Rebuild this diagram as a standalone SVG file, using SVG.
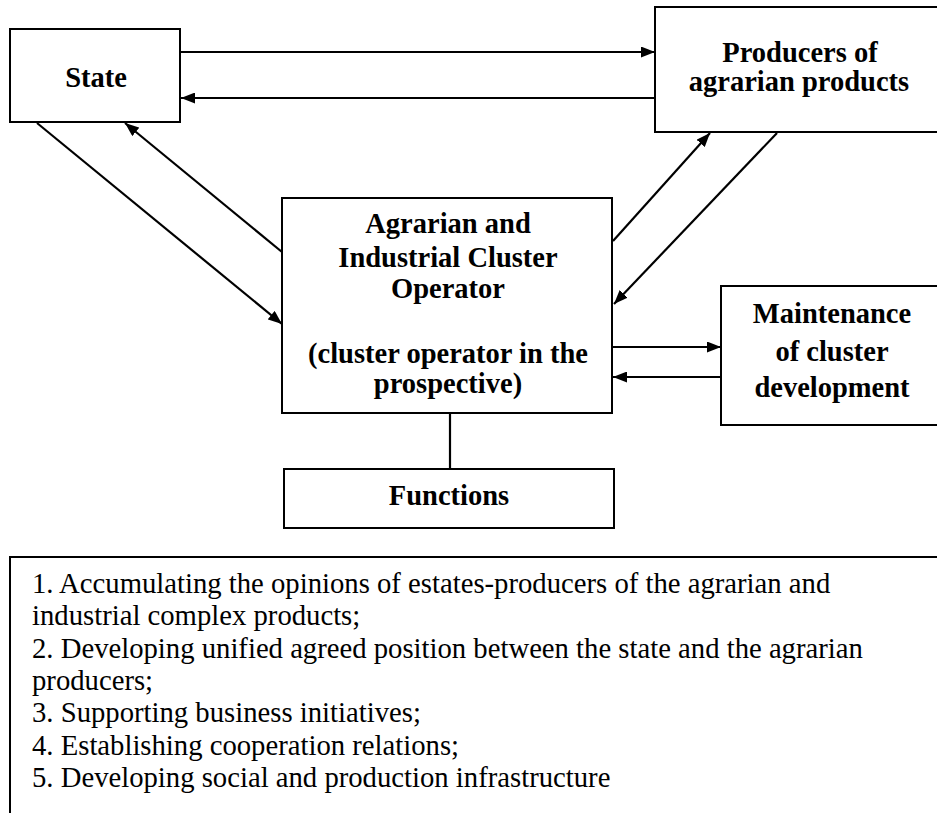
<svg xmlns="http://www.w3.org/2000/svg" width="937" height="813" viewBox="0 0 937 813">
<style>
.box{fill:#fff;stroke:#000;stroke-width:2}
.t{font-family:'Liberation Serif','Times New Roman',Tinos,'DejaVu Serif',serif;font-weight:bold;font-size:28.5px;fill:#000;text-anchor:middle}
.l{font-family:'Liberation Serif','Times New Roman',Tinos,'DejaVu Serif',serif;font-size:28.7px;fill:#000}
.c{stroke:#000;stroke-width:2.2;fill:none}
</style>
<defs>
<marker id="ah" viewBox="0 0 14 11" refX="14" refY="5.5" markerWidth="14" markerHeight="11" markerUnits="userSpaceOnUse" orient="auto">
<path d="M0,0 L14,5.5 L0,11 z" fill="#000"/>
</marker>
</defs>
<rect width="937" height="813" fill="#fff"/>
<g id="state"><rect class="box" x="10" y="29" width="170" height="93"/><text class="t" x="96" y="87">State</text></g>
<g id="producers"><rect class="box" x="655" y="7" width="290" height="125"/><text class="t" x="800" y="62">Producers of</text><text class="t" x="799" y="91">agrarian products</text></g>
<g id="operator"><rect class="box" x="282" y="198" width="330" height="215"/>
<text class="t" x="448" y="233">Agrarian and</text>
<text class="t" x="448" y="267">Industrial Cluster</text>
<text class="t" x="448" y="298">Operator</text>
<text class="t" x="448" y="363">(cluster operator in the</text>
<text class="t" x="448" y="393">prospective)</text></g>
<g id="maintenance"><rect class="box" x="721" y="286" width="224" height="139"/>
<text class="t" x="832" y="323">Maintenance</text>
<text class="t" x="832" y="361">of cluster</text>
<text class="t" x="832" y="397">development</text></g>
<g id="functions"><rect class="box" x="284" y="469" width="330" height="59"/><text class="t" x="449" y="505">Functions</text></g>
<g id="functions-list"><rect class="box" x="10" y="557" width="940" height="270"/>
<text class="l" x="32" y="593">1. Accumulating the opinions of estates-producers of the agrarian and</text>
<text class="l" x="32" y="625">industrial complex products;</text>
<text class="l" x="32" y="658">2. Developing unified agreed position between the state and the agrarian</text>
<text class="l" x="32" y="690">producers;</text>
<text class="l" x="32" y="722">3. Supporting business initiatives;</text>
<text class="l" x="32" y="755">4. Establishing cooperation relations;</text>
<text class="l" x="32" y="787">5. Developing social and production infrastructure</text></g>
<g id="connectors">
<line class="c" x1="181" y1="52" x2="655" y2="52" marker-end="url(#ah)"/>
<line class="c" x1="655" y1="98" x2="181" y2="98" marker-end="url(#ah)"/>
<line class="c" x1="37" y1="123" x2="282" y2="324" marker-end="url(#ah)"/>
<line class="c" x1="282" y1="252" x2="125" y2="123" marker-end="url(#ah)"/>
<line class="c" x1="613" y1="241" x2="710" y2="133" marker-end="url(#ah)"/>
<line class="c" x1="777" y1="133" x2="614" y2="304" marker-end="url(#ah)"/>
<line class="c" x1="613" y1="347" x2="721" y2="347" marker-end="url(#ah)"/>
<line class="c" x1="721" y1="377" x2="613" y2="377" marker-end="url(#ah)"/>
<line class="c" x1="450" y1="413" x2="450" y2="469"/>
</g>
</svg>
